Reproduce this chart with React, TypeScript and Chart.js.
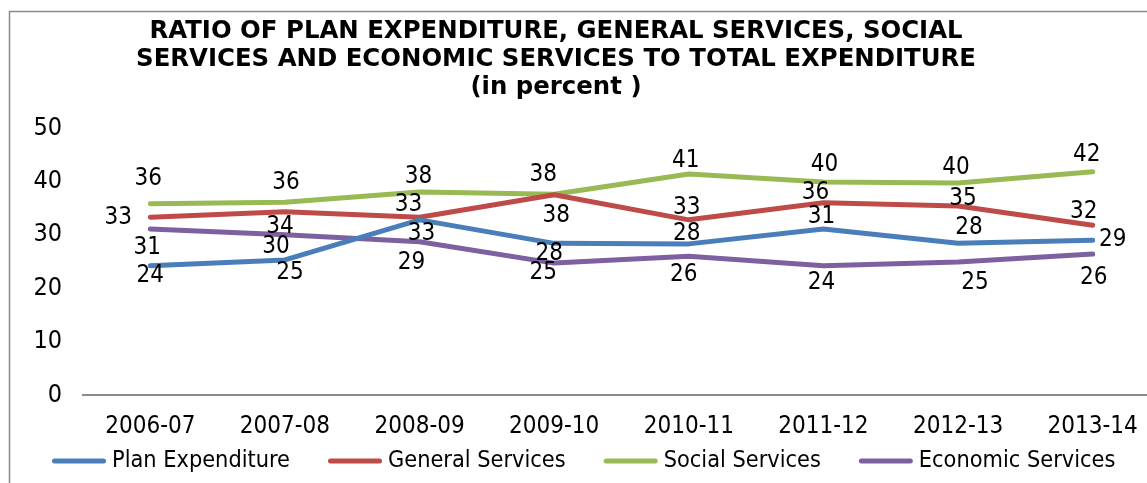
import React, { useEffect, useRef } from "react";
import { Chart, registerables } from "chart.js";

Chart.register(...registerables);

const categories = ["2006-07", "2007-08", "2008-09", "2009-10", "2010-11", "2011-12", "2012-13", "2013-14"];
const planExpenditure = [24.2, 25.3, 32.8, 28.4, 28.3, 31.1, 28.4, 29.0];
const generalServices = [33.3, 34.3, 33.3, 37.5, 32.8, 36.0, 35.4, 31.8];
const socialServices = [35.8, 36.1, 38.0, 37.6, 41.4, 39.9, 39.7, 41.8];
const economicServices = [31.1, 30.0, 28.7, 24.7, 26.0, 24.2, 24.9, 26.4];
const seriesNames = ["Plan Expenditure", "General Services", "Social Services", "Economic Services"];
const yTicks = [0, 10, 20, 30, 40, 50];
const titleLines = [
  "RATIO OF PLAN EXPENDITURE, GENERAL SERVICES, SOCIAL",
  "SERVICES AND ECONOMIC SERVICES TO TOTAL EXPENDITURE",
  "(in percent )",
];

// label offsets (dx, dy) relative to each point
const labelOffsets = [
  [[0, 10], [5, 13], [2, 14], [-5, 10], [-2, -10], [-2, -12], [11, -16], [20, 0]],
  [[-32, 1], [-5, 15], [-11, -12], [2, 21], [-2, -12], [-8, -10], [5, -7], [-9, -13]],
  [[-2, -25], [1, -19], [-1, -15], [-11, -19], [-3, -13], [1, -17], [-2, -15], [-6, -17]],
  [[-3, 19], [-9, 12], [-8, 21], [-11, 10], [-5, 19], [-2, 17], [17, 21], [1, 24]],
];

const colors = ["#4A7EBB", "#BE4B48", "#98B954", "#7D60A0"];
const FONT = "'DejaVu Sans', Verdana, sans-serif";
const CFONT = "'DejaVu Sans Condensed', 'DejaVu Sans', sans-serif";

export default function App() {
  const ref = useRef<HTMLCanvasElement | null>(null);
  useEffect(() => {
    const canvas = ref.current;
    if (!canvas) return;
    const values = [planExpenditure, generalServices, socialServices, economicServices];

    const framePlugin = {
      id: "frame",
      beforeDraw(chart: any) {
        const ctx = chart.ctx;
        ctx.save();
        ctx.fillStyle = "#ffffff";
        ctx.fillRect(0, 0, chart.width, chart.height);
        ctx.strokeStyle = "#8a8a8a";
        ctx.lineWidth = 1.5;
        ctx.beginPath();
        ctx.moveTo(9.5, chart.height + 5);
        ctx.lineTo(9.5, 11.5);
        ctx.lineTo(chart.width + 5, 11.5);
        ctx.stroke();
        ctx.restore();
      },
    };

    const titlePlugin = {
      id: "customTitle",
      afterDraw(chart: any) {
        const ctx = chart.ctx;
        ctx.save();
        ctx.font = `bold 24.4px ${FONT}`;
        ctx.fillStyle = "#000";
        ctx.textAlign = "center";
        ctx.textBaseline = "middle";
        titleLines.forEach((t, i) => ctx.fillText(t, 556, 32 + i * 28));
        ctx.restore();
      },
    };

    const labelPlugin = {
      id: "dataLabels",
      afterDatasetsDraw(chart: any) {
        const ctx = chart.ctx;
        ctx.save();
        ctx.font = `24px ${CFONT}`;
        ctx.fillStyle = "#000";
        ctx.textAlign = "center";
        ctx.textBaseline = "middle";
        chart.data.datasets.forEach((ds: any, di: number) => {
          const meta = chart.getDatasetMeta(di);
          meta.data.forEach((pt: any, i: number) => {
            const off = labelOffsets[di][i];
            ctx.fillText(String(Math.round(ds.data[i])), pt.x + off[0], pt.y + off[1]);
          });
        });
        ctx.restore();
      },
    };

    const legendPlugin = {
      id: "customLegend",
      afterDraw(chart: any) {
        const ctx = chart.ctx;
        ctx.save();
        ctx.font = `23.3px ${CFONT}`;
        const lineW = 54;
        const gapText = 6;
        const gapItem = 38;
        let x = 52;
        const y = 461;
        seriesNames.forEach((n, i) => {
          ctx.strokeStyle = colors[i];
          ctx.lineWidth = 5;
          ctx.lineCap = "round";
          ctx.beginPath();
          ctx.moveTo(x + 2.5, y);
          ctx.lineTo(x + lineW - 2.5, y);
          ctx.stroke();
          ctx.fillStyle = "#000";
          ctx.textAlign = "left";
          ctx.textBaseline = "middle";
          ctx.fillText(n, x + lineW + gapText, y);
          x += lineW + gapText + ctx.measureText(n).width + gapItem;
        });
        ctx.restore();
      },
    };

    const chart = new Chart(canvas, {
      type: "line",
      data: {
        labels: categories,
        datasets: values.map((v, i) => ({
          label: seriesNames[i],
          data: v,
          borderColor: colors[i],
          backgroundColor: colors[i],
          borderWidth: 5,
          borderCapStyle: "round" as const,
          borderJoinStyle: "round" as const,
          pointRadius: 0,
          tension: 0,
          fill: false,
        })),
      },
      options: {
        animation: false,
        responsive: false,
        devicePixelRatio: 1,
        layout: { padding: { top: 128, left: 0, right: 10, bottom: 0 } },
        plugins: {
          legend: { display: false },
          title: { display: false },
          tooltip: { enabled: false },
        },
        scales: {
          x: {
            offset: true,
            grid: { display: false, drawTicks: false },
            border: { display: true, color: "#8a8a8a", width: 2 },
            ticks: { color: "#000", font: { family: CFONT, size: 24 }, padding: 17, maxRotation: 0, autoSkip: false },
            afterFit: (s: any) => { s.height = 88; },
          },
          y: {
            min: 0,
            max: 50,
            afterBuildTicks: (s: any) => { s.ticks = yTicks.map((v) => ({ value: v })); },
            grid: { display: false, drawTicks: false },
            border: { display: false },
            ticks: { color: "#000", font: { family: CFONT, size: 25 }, padding: 21 },
            afterFit: (s: any) => { s.width = 83; },
          },
        },
      },
      plugins: [framePlugin, labelPlugin, titlePlugin, legendPlugin],
    });
    return () => chart.destroy();
  }, []);

  return (
    <div style={{ position: "fixed", left: 0, top: 0, width: 1147, height: 483, overflow: "hidden", background: "#fff" }}>
      <canvas ref={ref} width={1170} height={483} style={{ width: 1170, height: 483, display: "block" }} />
    </div>
  );
}
